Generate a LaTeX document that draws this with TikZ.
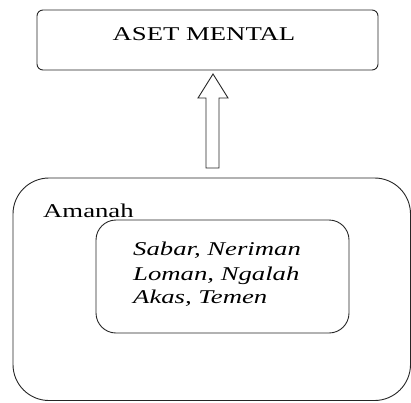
\documentclass[tikz,border=0pt]{standalone}
\usepackage{fontspec}
\setmainfont{Liberation Serif}
\usepackage{graphicx}
\begin{document}
\begin{tikzpicture}[x=1pt,y=-1pt,
  frame/.style={draw=black!85, line width=0.9pt},
  wide/.style={inner sep=0pt, font=\fontsize{19.5}{24}\selectfont}]
\useasboundingbox (0,0) rectangle (411,402);
% top box
\draw[frame, rounded corners=6] (37,10) rectangle (378,70);
\node[wide, anchor=base] (aset) at (204,40) {\scalebox{1.37}[1]{ASET MENTAL}};
% outer box (runs to the page edge)
\draw[frame, rounded corners=36] (13,178) rectangle (410.5,400.5);
\node[wide, anchor=base west] (amanah) at (43,217) {\scalebox{1.37}[1]{Amanah}};
% inner box
\draw[frame, rounded corners=20] (96,220) rectangle (349,333);
\node[wide, anchor=base west] (l1) at (133,255) {\scalebox{1.37}[1]{\itshape Sabar, Neriman}};
\node[wide, anchor=base west] (l2) at (133,280) {\scalebox{1.37}[1]{\itshape Loman, Ngalah}};
\node[wide, anchor=base west] (l3) at (133,303) {\scalebox{1.37}[1]{\itshape Akas, Temen}};
% hollow block arrow pointing up
\draw[frame, line join=miter] (206,168) -- (206,98) -- (198,98) -- (213,74) -- (228,98) -- (219,98) -- (219,168) -- cycle;
\end{tikzpicture}
\end{document}
